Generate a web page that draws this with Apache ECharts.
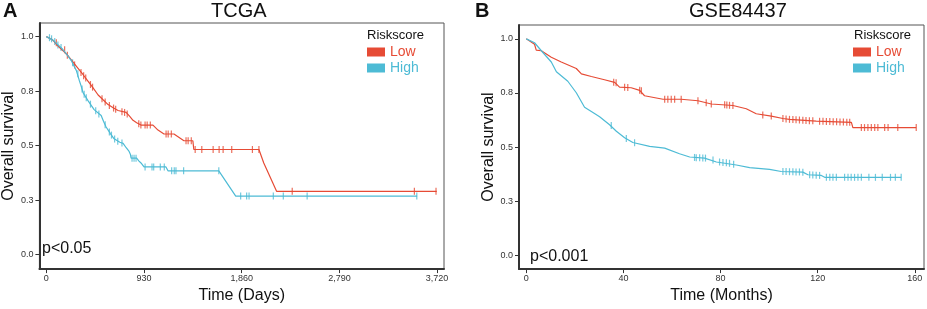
<!DOCTYPE html>
<html>
<head>
<meta charset="utf-8">
<script src="https://cdn.jsdelivr.net/npm/echarts@6/dist/echarts.min.js"></script>
<style>
  html, body { margin: 0; padding: 0; background: #fff; }
  #chart { width: 927px; height: 309px; }
</style>
</head>
<body>
<div id="chart"></div>
<script>
// tick labels
const yTicks = [0, 0.25, 0.5, 0.75, 1]
const yLabels = ['0.0', '0.3', '0.5', '0.8', '1.0']
const xTicksA = [0, 930, 1860, 2790, 3720]
const xTicksB = [0, 40, 80, 120, 160]

// TCGA (days, survival)
const lowA = [[0, 1], [19, 1], [60, 0.985], [123, 0.951], [170, 0.93], [209, 0.911], [260, 0.88], [304, 0.853],
  [350, 0.825], [398, 0.795], [440, 0.768], [493, 0.732], [540, 0.71], [588, 0.688], [640, 0.672], [683, 0.661],
  [759, 0.652], [790, 0.636], [825, 0.616], [860, 0.605], [901, 0.594], [1015, 0.594], [1063, 0.571], [1120, 0.553],
  [1215, 0.553], [1310, 0.522], [1395, 0.522], [1404, 0.482], [2024, 0.482], [2070, 0.42], [2192, 0.29], [3717, 0.29]]
const lowACensor = [[95, 0.972], [174, 0.94], [200, 0.915], [269, 0.87], [330, 0.835], [355, 0.82], [375, 0.81],
  [420, 0.78], [440, 0.768], [530, 0.715], [560, 0.7], [600, 0.684], [640, 0.672], [660, 0.667], [720, 0.655],
  [745, 0.652], [770, 0.645], [880, 0.6], [900, 0.594], [940, 0.594], [960, 0.594], [990, 0.594], [1140, 0.553],
  [1160, 0.553], [1190, 0.553], [1330, 0.522], [1350, 0.522], [1380, 0.522], [1417, 0.482], [1480, 0.482],
  [1588, 0.482], [1645, 0.482], [1683, 0.482], [1765, 0.482], [1962, 0.482], [2024, 0.482], [2341, 0.29],
  [3504, 0.29], [3710, 0.29]]
const highA = [[0, 1], [60, 0.985], [156, 0.942], [200, 0.915], [237, 0.89], [285, 0.845], [313, 0.8], [330, 0.775],
  [351, 0.741], [398, 0.705], [455, 0.665], [522, 0.638], [545, 0.61], [569, 0.585], [610, 0.555], [645, 0.531],
  [700, 0.515], [731, 0.51], [760, 0.49], [788, 0.473], [800, 0.46], [807, 0.442], [860, 0.442], [880, 0.43],
  [901, 0.42], [930, 0.402], [1139, 0.402], [1158, 0.384], [1642, 0.384], [1803, 0.268], [3530, 0.268]]
const highACensor = [[30, 0.995], [50, 0.99], [80, 0.978], [110, 0.962], [140, 0.95], [250, 0.88], [300, 0.83],
  [340, 0.76], [360, 0.735], [380, 0.72], [420, 0.69], [470, 0.66], [500, 0.645], [560, 0.595], [600, 0.562],
  [620, 0.548], [650, 0.53], [680, 0.52], [720, 0.512], [816, 0.442], [835, 0.442], [854, 0.442], [940, 0.402],
  [1006, 0.402], [1022, 0.402], [1085, 0.402], [1123, 0.402], [1193, 0.384], [1218, 0.384], [1234, 0.384],
  [1307, 0.384], [1642, 0.384], [1850, 0.268], [1907, 0.268], [1930, 0.268], [2161, 0.268], [2256, 0.268],
  [2483, 0.268], [3527, 0.268]]

// GSE84437 (months, survival)
const lowB = [[0, 1], [3.4, 0.975], [4.1, 0.948], [6.2, 0.945], [10.3, 0.915], [14.4, 0.893], [20.6, 0.863],
  [22.7, 0.838], [26.8, 0.826], [32.2, 0.811], [36.4, 0.799], [38.4, 0.777], [43.2, 0.774], [46.7, 0.762],
  [48.7, 0.737], [56.3, 0.721], [63.8, 0.721], [70.7, 0.714], [76.2, 0.699], [85.1, 0.692], [90.6, 0.677],
  [94.7, 0.654], [100.9, 0.643], [105.7, 0.632], [108.4, 0.628], [119.4, 0.62], [133.9, 0.614], [134.5, 0.59],
  [160.6, 0.59]]
const lowBCensor = [[36, 0.8], [37, 0.797], [40.5, 0.776], [41.8, 0.775], [46.7, 0.762], [47.4, 0.76], [57, 0.721],
  [58.3, 0.721], [59.7, 0.721], [61.1, 0.721], [63.8, 0.721], [70.7, 0.714], [74.1, 0.705], [76.2, 0.699],
  [81.7, 0.695], [82.6, 0.694], [83.7, 0.693], [85.1, 0.692], [97.4, 0.648], [100.9, 0.643], [105.7, 0.632],
  [107, 0.63], [108.4, 0.628], [109.8, 0.627], [111.1, 0.626], [112.5, 0.625], [113.9, 0.624], [115.2, 0.623],
  [116.6, 0.622], [118, 0.621], [120.8, 0.619], [122.2, 0.619], [123.6, 0.618], [125, 0.618], [126.4, 0.617],
  [127.8, 0.617], [129.2, 0.616], [130.6, 0.616], [132, 0.615], [133.2, 0.615], [138, 0.59], [139.3, 0.59],
  [140.7, 0.59], [142.1, 0.59], [143.5, 0.59], [144.8, 0.59], [147.6, 0.59], [149, 0.59], [153, 0.59], [160.6, 0.59]]
const highB = [[0, 1], [3.4, 0.982], [6.2, 0.945], [10.3, 0.893], [12.4, 0.848], [17.1, 0.804], [20.6, 0.751],
  [24, 0.684], [28.1, 0.655], [30.2, 0.64], [34.3, 0.603], [37.1, 0.573], [40.5, 0.543], [43.9, 0.521],
  [50.8, 0.503], [57, 0.495], [63.1, 0.469], [67.3, 0.454], [73.4, 0.449], [78.3, 0.431], [86.5, 0.417],
  [92, 0.405], [100.2, 0.397], [105, 0.387], [113.9, 0.384], [116, 0.372], [121.5, 0.369], [122.9, 0.36],
  [154.4, 0.36]]
const highBCensor = [[35, 0.6], [41.2, 0.54], [44.6, 0.52], [69.3, 0.452], [70, 0.451], [71.4, 0.45], [72.7, 0.449],
  [73.8, 0.449], [76.9, 0.44], [79.6, 0.431], [81, 0.429], [82.4, 0.427], [83.7, 0.425], [85.4, 0.42],
  [105.7, 0.387], [107, 0.387], [108.4, 0.386], [109.8, 0.386], [111.1, 0.385], [112.5, 0.385], [113.9, 0.384],
  [116.7, 0.372], [118, 0.371], [119.4, 0.37], [120.8, 0.369], [123.6, 0.36], [125, 0.36], [126.3, 0.36],
  [127.7, 0.36], [131.1, 0.36], [132.5, 0.36], [133.8, 0.36], [135.2, 0.36], [136.6, 0.36], [138, 0.36],
  [141.1, 0.36], [143.8, 0.36], [146.6, 0.36], [150, 0.36], [152, 0.36], [154.4, 0.36]]

const RED = '#E64B35'
const BLUE = '#4DBBD5'
const FONT = 'Liberation Sans, Arial, sans-serif'

const chart = echarts.init(document.getElementById('chart'), null, { renderer: 'canvas' })

function xAxisOf(idx, min, max, ticks, name, fmt) {
  return {
    type: 'value',
    gridIndex: idx,
    min: min,
    max: max,
    name: name,
    nameLocation: 'middle',
    nameGap: 15,
    nameTextStyle: { fontSize: 16, color: '#111', fontFamily: FONT },
    splitLine: { show: false },
    axisLine: { show: true, onZero: false, lineStyle: { color: '#333', width: 2 } },
    axisTick: { show: true, length: 4, customValues: ticks, lineStyle: { color: '#333' } },
    axisLabel: { customValues: ticks, fontSize: 9, color: '#333', margin: 5, fontFamily: FONT, formatter: fmt }
  }
}

function yAxisOf(idx, min, max) {
  return {
    type: 'value',
    gridIndex: idx,
    min: min,
    max: max,
    name: 'Overall survival',
    nameLocation: 'middle',
    nameGap: 22,
    nameTextStyle: { fontSize: 16, color: '#111', fontFamily: FONT },
    splitLine: { show: false },
    axisLine: { show: true, onZero: false, lineStyle: { color: '#333', width: 2 } },
    axisTick: { show: true, length: 4, customValues: yTicks, lineStyle: { color: '#333' } },
    axisLabel: {
      customValues: yTicks, fontSize: 9, color: '#333', margin: 6, fontFamily: FONT,
      formatter: (v) => yLabels[yTicks.indexOf(v)]
    }
  }
}

function curve(name, data, color, xi, yi) {
  return {
    name: name, type: 'line', xAxisIndex: xi, yAxisIndex: yi, data: data,
    showSymbol: false, smooth: false, animation: false,
    lineStyle: { color: color, width: 1.2 }, itemStyle: { color: color }
  }
}

function censor(name, data, color, xi, yi) {
  return {
    name: name, type: 'scatter', xAxisIndex: xi, yAxisIndex: yi, data: data,
    symbol: 'rect', symbolSize: [1.2, 7], animation: false,
    itemStyle: { color: color }
  }
}

function legendOf(left) {
  return {
    orient: 'vertical', left: left, top: 45, icon: 'rect',
    itemWidth: 18, itemHeight: 9, itemGap: 2, padding: 0,
    textStyle: { fontSize: 14, fontFamily: FONT },
    data: [
      { name: 'Low', textStyle: { color: RED } },
      { name: 'High', textStyle: { color: BLUE } }
    ]
  }
}

const txt = (text, left, top, size, weight) => ({
  text: text, left: left, top: top, padding: 0,
  textStyle: { fontSize: size, fontWeight: weight || 'normal', color: '#111', fontFamily: FONT }
})

chart.setOption({
  animation: false,
  title: [
    txt('A', 3, 1, 20, 'bold'),
    txt('TCGA', 211, 1, 20),
    txt('B', 475, 1, 20, 'bold'),
    txt('GSE84437', 689, 1, 20),
    txt('Riskscore', 367, 29, 13),
    txt('Riskscore', 854, 29, 13),
    txt('p<0.05', 42, 241, 16),
    txt('p<0.001', 530, 249, 16)
  ],
  legend: [legendOf(367), legendOf(853)],
  grid: [
    { left: 38, right: 483, top: 23, bottom: 33, show: true, borderColor: '#555', borderWidth: 1 },
    { left: 519, right: 3, top: 25, bottom: 31, show: true, borderColor: '#555', borderWidth: 1 }
  ],
  xAxis: [
    xAxisOf(0, -66, 3786, xTicksA, 'Time (Days)', (v) => v.toLocaleString('en-US')),
    xAxisOf(1, -3, 163.8, xTicksB, 'Time (Months)', (v) => String(v))
  ],
  yAxis: [
    yAxisOf(0, -0.067, 1.0625),
    yAxisOf(1, -0.064, 1.064)
  ],
  series: [
    curve('Low', lowA, RED, 0, 0),
    curve('High', highA, BLUE, 0, 0),
    censor('Low', lowACensor, RED, 0, 0),
    censor('High', highACensor, BLUE, 0, 0),
    curve('Low', lowB, RED, 1, 1),
    curve('High', highB, BLUE, 1, 1),
    censor('Low', lowBCensor, RED, 1, 1),
    censor('High', highBCensor, BLUE, 1, 1)
  ]
})
</script>
</body>
</html>
